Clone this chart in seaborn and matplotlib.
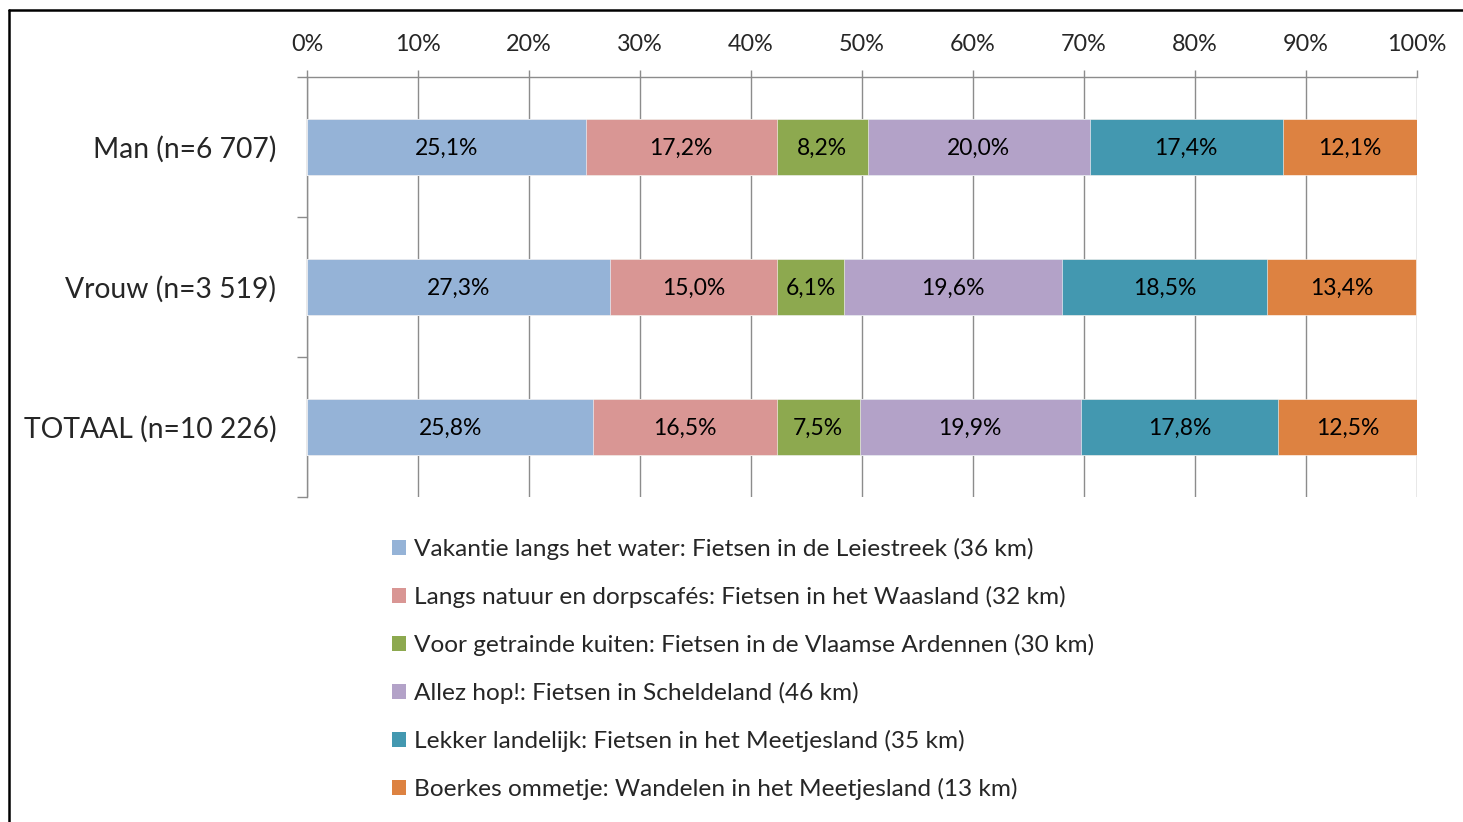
import numpy as np
import pandas as pd
import matplotlib
matplotlib.use("Agg")
import matplotlib.pyplot as plt
import seaborn as sns
from matplotlib.lines import Line2D
from matplotlib.patches import Patch
from matplotlib.ticker import FixedLocator, PercentFormatter

# data
groups = ["Man (n=6 707)", "Vrouw (n=3 519)", "TOTAAL (n=10 226)"]
routes = [
    "Vakantie langs het water: Fietsen in de Leiestreek (36 km)",
    "Langs natuur en dorpscafés: Fietsen in het Waasland (32 km)",
    "Voor getrainde kuiten: Fietsen in de Vlaamse Ardennen (30 km)",
    "Allez hop!: Fietsen in Scheldeland (46 km)",
    "Lekker landelijk: Fietsen in het Meetjesland (35 km)",
    "Boerkes ommetje: Wandelen in het Meetjesland (13 km)",
]
leiestreek = [25.1, 27.3, 25.8]
waasland = [17.2, 15.0, 16.5]
ardennen = [8.2, 6.1, 7.5]
scheldeland = [20.0, 19.6, 19.9]
meetjesland_fiets = [17.4, 18.5, 17.8]
meetjesland_wandel = [12.1, 13.4, 12.5]
colors = ["#95B3D7", "#D99694", "#8DA94F", "#B3A2C8", "#4398B0", "#DD8241"]

series = [leiestreek, waasland, ardennen, scheldeland,
          meetjesland_fiets, meetjesland_wandel]

df = pd.DataFrame(np.array(series).T, columns=routes)
df.insert(0, "groep", groups)
cum = df[routes].cumsum(axis=1)

sns.set_theme(style="white")
plt.rcParams["font.family"] = ["Lato", "DejaVu Sans"]

fig = plt.figure(figsize=(14.63, 8.22), dpi=100)
ax = fig.add_axes([307 / 1463, 1 - 497 / 822, 1110 / 1463, 420 / 822])

grid_col = "#8C8C8C"

# stacked bars: draw cumulative totals from the largest down
for i in range(len(routes) - 1, -1, -1):
    sns.barplot(x=cum[routes[i]], y=df["groep"], color=colors[i],
                orient="h", width=0.4, saturation=1, ax=ax,
                edgecolor="white", linewidth=0.4, zorder=3)

# value labels in the middle of each segment
for i, r in enumerate(routes):
    mids = cum[r] - df[r] / 2
    for j, (m, v) in enumerate(zip(mids, df[r])):
        ax.text(m, j + 0.01, f"{v:.1f}%".replace(".", ","), ha="center",
                va="center", fontsize=16.5, color="black", zorder=4)

ax.set_xlim(0, 100)
ax.set_ylim(2.5, -0.5)
ax.xaxis.tick_top()
ax.xaxis.set_major_locator(FixedLocator(np.arange(0, 101, 10)))
ax.xaxis.set_major_formatter(PercentFormatter(decimals=0))
ax.tick_params(axis="x", which="major", top=True, length=5, width=1,
               color=grid_col, labelsize=16.8, pad=11)
ax.yaxis.set_minor_locator(FixedLocator([-0.5, 0.5, 1.5, 2.5]))
ax.tick_params(axis="y", which="major", left=False, labelsize=20.3, pad=16)
ax.tick_params(axis="y", which="minor", left=True, length=7, width=1,
               color=grid_col)
ax.set_xlabel("")
ax.set_ylabel("")
ax.grid(axis="x", color=grid_col, linewidth=1, zorder=0)
ax.set_axisbelow(True)
for side in ["bottom", "right"]:
    ax.spines[side].set_visible(False)
for side in ["top", "left"]:
    ax.spines[side].set_color(grid_col)
    ax.spines[side].set_linewidth(1)

handles = [Patch(facecolor=c, edgecolor="none") for c in colors]
fig.legend(handles, routes, loc="upper left",
           bbox_to_anchor=(392 / 1463, 1 - 538 / 822), frameon=False,
           fontsize=17.6, handlelength=0.58, handleheight=0.58,
           handletextpad=0.3, labelspacing=1.06, borderpad=0,
           borderaxespad=0)

# outer frame (only top and left edges visible in the reference)
fig.add_artist(Line2D([9 / 1463, 1], [1 - 10 / 822, 1 - 10 / 822],
                      color="black", linewidth=1.8))
fig.add_artist(Line2D([9 / 1463, 9 / 1463], [0, 1 - 10 / 822],
                      color="black", linewidth=1.8))

fig.savefig("out.png", dpi=100)
